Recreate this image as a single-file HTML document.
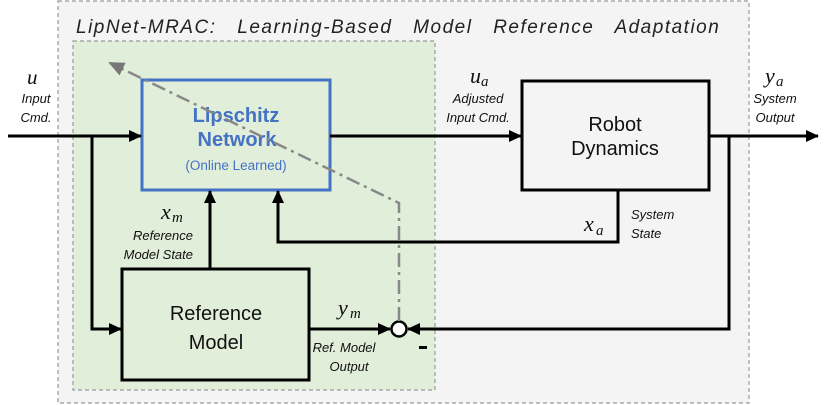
<!DOCTYPE html>
<html><head><meta charset="utf-8"><style>
html,body{margin:0;padding:0;background:#fff;}
svg{display:block;}
text{font-family:"Liberation Sans",sans-serif;}
.it{font-style:italic;font-size:13px;fill:#111;}
.m{font-family:"Liberation Serif",serif;font-style:italic;font-size:22px;fill:#111;}
.ms{font-family:"Liberation Serif",serif;font-style:italic;font-size:15px;fill:#111;}
</style></head><body>
<svg width="830" height="405" viewBox="0 0 830 405" xmlns="http://www.w3.org/2000/svg">
<defs>
<marker id="a" markerWidth="13" markerHeight="12" refX="12" refY="6" orient="auto" markerUnits="userSpaceOnUse" viewBox="0 0 13 12"><path d="M0,0 L13,6 L0,12 Z" fill="#000"/></marker>
<marker id="g" markerWidth="16" markerHeight="14" refX="14" refY="7" orient="auto" markerUnits="userSpaceOnUse" viewBox="0 0 16 14"><path d="M0,0 L16,7 L0,14 Z" fill="#777"/></marker>
</defs>
<rect x="58" y="1" width="691" height="402" fill="#f4f4f4" stroke="#999" stroke-width="1.2" stroke-dasharray="4,3"/>
<rect x="73" y="41" width="362" height="349" fill="#e1eed9" stroke="#999" stroke-width="1.2" stroke-dasharray="4,3"/>
<text x="76" y="33" style="font-style:italic;font-size:19px;fill:#222;letter-spacing:1.5px;word-spacing:14px">LipNet-MRAC: Learning-Based Model Reference Adaptation</text>

<rect x="142" y="80" width="188" height="110" fill="#e1eed9" stroke="#4472c4" stroke-width="3"/>
<text x="236" y="122" text-anchor="middle" style="font-weight:bold;font-size:20px;fill:#4472c4">Lipschitz</text>
<text x="237" y="146" text-anchor="middle" style="font-weight:bold;font-size:20px;fill:#4472c4">Network</text>
<text x="236" y="170" text-anchor="middle" style="font-size:13.5px;fill:#4472c4">(Online Learned)</text>

<rect x="522" y="81" width="187" height="109" fill="#f4f4f4" stroke="#000" stroke-width="3"/>
<text x="615" y="131" text-anchor="middle" style="font-size:20px;fill:#111">Robot</text>
<text x="615" y="155" text-anchor="middle" style="font-size:20px;fill:#111">Dynamics</text>

<rect x="122" y="269" width="187" height="111" fill="#e1eed9" stroke="#000" stroke-width="3"/>
<text x="216" y="320" text-anchor="middle" style="font-size:20px;fill:#111">Reference</text>
<text x="216" y="349" text-anchor="middle" style="font-size:20px;fill:#111">Model</text>

<g stroke="#000" stroke-width="3" fill="none">
<line x1="8" y1="136" x2="141" y2="136" marker-end="url(#a)"/>
<polyline points="92,136 92,329 121,329" marker-end="url(#a)"/>
<line x1="330" y1="136" x2="521" y2="136" marker-end="url(#a)"/>
<line x1="709" y1="136" x2="818" y2="136" marker-end="url(#a)"/>
<line x1="210" y1="269" x2="210" y2="191" marker-end="url(#a)"/>
<polyline points="618,190 618,242 278,242 278,191" marker-end="url(#a)"/>
<line x1="309" y1="329" x2="390" y2="329" marker-end="url(#a)"/>
<polyline points="729,136 729,329 408,329" marker-end="url(#a)"/>
<circle cx="399" cy="329" r="7.5" fill="#fff" stroke-width="2.5"/>
</g>
<rect x="419" y="346" width="8" height="3" fill="#000"/>
<polyline points="399,321 399,203 110,63" fill="none" stroke="#888" stroke-width="2.5" stroke-dasharray="14,5,3,5" marker-end="url(#g)"/>

<text x="27" y="84" class="m" style="font-size:21px">u</text>
<text x="36" y="103" text-anchor="middle" class="it">Input</text>
<text x="36" y="122" text-anchor="middle" class="it">Cmd.</text>

<text x="470" y="83" class="m">u</text><text x="481" y="86" class="ms">a</text>
<text x="478" y="103" text-anchor="middle" class="it">Adjusted</text>
<text x="478" y="122" text-anchor="middle" class="it">Input Cmd.</text>

<text x="765" y="83" class="m">y</text><text x="776" y="86" class="ms">a</text>
<text x="775" y="103" text-anchor="middle" class="it">System</text>
<text x="775" y="122" text-anchor="middle" class="it">Output</text>

<text x="161" y="219" class="m">x</text><text x="172" y="222" class="ms">m</text>
<text x="193" y="240" text-anchor="end" class="it">Reference</text>
<text x="193" y="259" text-anchor="end" class="it">Model State</text>

<text x="584" y="231" class="m">x</text><text x="596" y="235" class="ms">a</text>
<text x="631" y="219" class="it">System</text>
<text x="631" y="238" class="it">State</text>

<text x="338" y="315" class="m">y</text><text x="350" y="318" class="ms">m</text>
<text x="344" y="352" text-anchor="middle" class="it">Ref. Model</text>
<text x="349" y="371" text-anchor="middle" class="it">Output</text>
</svg>
</body></html>
